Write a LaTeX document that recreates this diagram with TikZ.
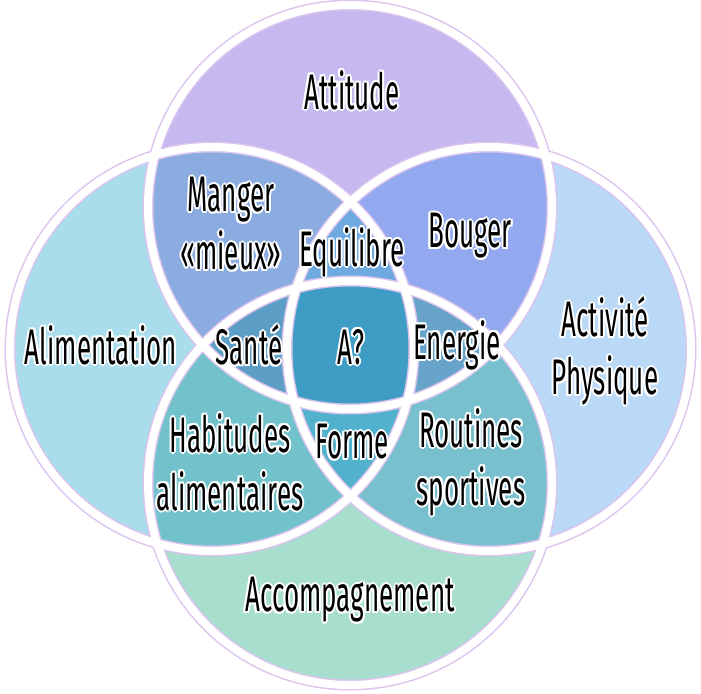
\documentclass[tikz,border=0pt]{standalone}
\usepackage{fontspec}
\setmainfont[FakeStretch=0.52]{Fira Sans}
\definecolor{cT}{HTML}{C5B9F0}
\definecolor{cL}{HTML}{A9DDEB}
\definecolor{cR}{HTML}{B9D9F6}
\definecolor{cB}{HTML}{A7DECD}
\definecolor{cTL}{HTML}{8AACE0}
\definecolor{cTR}{HTML}{93A9EF}
\definecolor{cLB}{HTML}{72C2CB}
\definecolor{cRB}{HTML}{78C0CE}
\definecolor{cTB}{HTML}{5EA0C8}
\definecolor{cLR}{HTML}{6EA9E0}
\definecolor{cTLR}{HTML}{6EA9E0}
\definecolor{cTLB}{HTML}{5C9EC6}
\definecolor{cTRB}{HTML}{68A3CA}
\definecolor{cLRB}{HTML}{52B2CE}
\definecolor{cAll}{HTML}{3F9DC5}
\definecolor{ringline}{HTML}{DCC4EE}
\tikzset{
  lab/.style={font=\fontsize{50}{58}\selectfont, align=center, inner sep=0pt, text=black},
  ringouter/.style={draw=ringline, line width=11pt},
  ringinner/.style={draw=white, line width=8pt}
}
\newcommand\halolabel[3]{%
  \foreach \hx/\hy in {2/0,-2/0,0/2,0/-2,1.4/1.4,-1.4/1.4,1.4/-1.4,-1.4/-1.4}{
    \node[lab,text=white] at ([shift={(\hx,\hy)}]#2) {#3};}
  \node[lab] (#1) at (#2) {#3};}
\newcommand\rr{202pt}
\begin{document}
\begin{tikzpicture}[x=1pt,y=-1pt]
\useasboundingbox (0,0) rectangle (701,693);
\coordinate (T) at (350,207);
\coordinate (L) at (212,349);
\coordinate (R) at (489,349);
\coordinate (B) at (350,483);
% single fills
\fill[cT] (T) circle[radius=\rr];
\fill[cL] (L) circle[radius=\rr];
\fill[cR] (R) circle[radius=\rr];
\fill[cB] (B) circle[radius=\rr];
% pairs
\begin{scope}
  \clip (T) circle[radius=\rr];
  \fill[cTL] (L) circle[radius=\rr];
  \fill[cTR] (R) circle[radius=\rr];
  \fill[cTB] (B) circle[radius=\rr];
\end{scope}
\begin{scope}
  \clip (L) circle[radius=\rr];
  \fill[cLR] (R) circle[radius=\rr];
  \fill[cLB] (B) circle[radius=\rr];
\end{scope}
\begin{scope}
  \clip (R) circle[radius=\rr];
  \fill[cRB] (B) circle[radius=\rr];
\end{scope}
% triples
\begin{scope}
  \clip (T) circle[radius=\rr];
  \clip (L) circle[radius=\rr];
  \fill[cTLR] (R) circle[radius=\rr];
  \fill[cTLB] (B) circle[radius=\rr];
\end{scope}
\begin{scope}
  \clip (T) circle[radius=\rr];
  \clip (R) circle[radius=\rr];
  \fill[cTRB] (B) circle[radius=\rr];
\end{scope}
\begin{scope}
  \clip (L) circle[radius=\rr];
  \clip (R) circle[radius=\rr];
  \fill[cLRB] (B) circle[radius=\rr];
\end{scope}
% all four
\begin{scope}
  \clip (T) circle[radius=\rr];
  \clip (L) circle[radius=\rr];
  \clip (R) circle[radius=\rr];
  \fill[cAll] (B) circle[radius=\rr];
\end{scope}
% rings
\foreach \c in {T,L,R,B} \draw[ringouter] (\c) circle[radius=\rr];
\foreach \c in {T,L,R,B} \draw[ringinner] (\c) circle[radius=\rr];
% labels
\halolabel{attitude}{352,90}{Attitude}
\halolabel{alim}{101,345}{Alimentation}
\halolabel{manger}{231,224}{Manger\\«mieux»}
\halolabel{equil}{352,252}{Equilibre}
\halolabel{bouger}{470,236}{Bouger}
\halolabel{sante}{249,345}{Santé}
\halolabel{aq}{351,347}{A?}
\halolabel{energie}{457,345}{Energie}
\halolabel{habit}{230,462}{Habitudes\\alimentaires}
\halolabel{forme}{352,442}{Forme}
\halolabel{routines}{471,462}{Routines\\sportives}
\halolabel{activite}{605,351}{Activité\\Physique}
\halolabel{accomp}{350,600}{Accompagnement}
\end{tikzpicture}
\end{document}
